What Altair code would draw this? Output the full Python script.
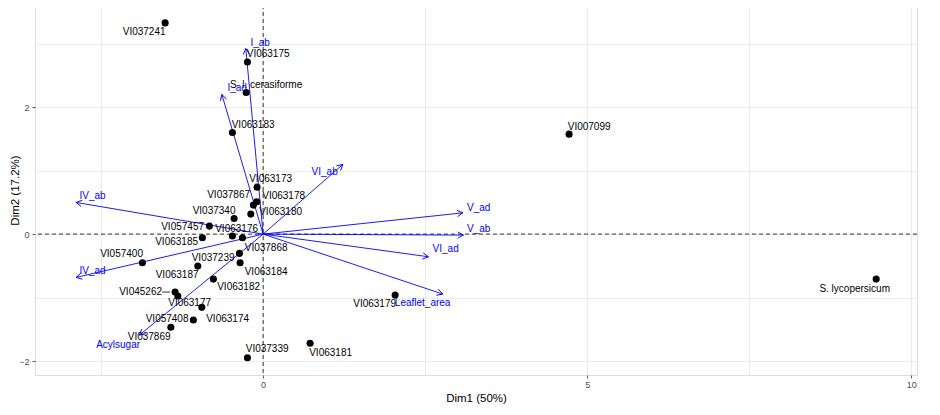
import math
import pandas as pd
import altair as alt

# ---------------- data ----------------
ind_names = ["VI037241", "VI063175", "S. l. cerasiforme", "VI063183", "VI007099",
             "VI063173", "VI063178", "VI037867", "VI063180", "VI037340",
             "VI057457", "VI063176", "VI037868", "VI063185", "VI037239",
             "VI063184", "VI057400", "VI063187", "VI063182", "VI045262",
             "VI063177", "VI063174", "VI057408", "VI037869", "VI037339",
             "VI063181", "VI063179", "S. lycopersicum"]
ind_dim1 = [-1.512, -0.242, -0.262, -0.474, 4.722,
            -0.093, -0.097, -0.150, -0.190, -0.448,
            -0.829, -0.474, -0.319, -0.937, -0.366,
            -0.355, -1.863, -1.008, -0.767, -1.358,
            -1.316, -0.946, -1.076, -1.424, -0.242,
            0.725, 2.037, 9.460]
ind_dim2 = [3.328, 2.713, 2.231, 1.602, 1.575,
            0.740, 0.509, 0.457, 0.315, 0.247,
            0.126, -0.031, -0.058, -0.058, -0.304,
            -0.452, -0.452, -0.504, -0.709, -0.913,
            -0.976, -1.154, -1.354, -1.469, -1.948,
            -1.721, -0.961, -0.709]

var_names = ["I_ab", "I_ad", "VI_ab", "IV_ab", "IV_ad", "V_ad", "V_ab", "VI_ad",
             "Leaflet_area", "Acylsugar"]
var_dim1 = [-0.267, -0.637, 1.230, -2.886, -2.886, 3.082, 3.091, 2.551, 2.773, -1.909]
var_dim2 = [2.924, 2.200, 1.098, 0.499, -0.682, 0.335, -0.016, -0.357, -0.945, -1.591]

x_major = [0, 5, 10]
x_grid = [-2.5, 0, 2.5, 5, 7.5, 10]
y_major = [-2, 0, 2]
y_grid = [-2, -1, 0, 1, 2, 3]

# ---------------- styling (label placement, in pixels) ----------------
ind_lab_dx = [-21, 20.7, 20, 20.7, 20, 13.5, 26.8, -24.8, 29.8, -20,
              -26.8, 4.2, 23.7, -25.8, -26.3, 26, -20.8, -20.7, 25.2, -34.5,
              11.8, 25.8, -26.3, -21.7, 19.7, 20.5, -20.5, -21.5]
ind_lab_dy = [9.3, -7.7, -7.3, -7.3, -7, -7.7, -5.7, -10, -1.7, -7.3,
              0.7, -7, 10, 4, 5, 9, -8.4, 9, 8.3, 0,
              7.3, 12, -0.7, 10, -8.4, 10, 9.3, 10]
var_lab_dx = [14.3, 15.3, -18.2, 16.5, 16.5, 15.8, 15.2, 17.2, -20.2, -21.3]
var_lab_dy = [-5.3, -6.6, 8, -6.6, -6.6, -5, -5.7, -7.4, 9.3, 10]

W, H = 882, 370
XDOM = [-3.52, 10.09]
YDOM = [-2.22, 3.61]
KX = W / (XDOM[1] - XDOM[0])
KY = H / (YDOM[1] - YDOM[0])
BLUE = "#0000FF"
FONT = "Liberation Sans"

ind = pd.DataFrame({"name": ind_names, "x": ind_dim1, "y": ind_dim2,
                    "dx": ind_lab_dx, "dy": ind_lab_dy})
ind["lx"] = ind["x"] + ind["dx"] / KX
ind["ly"] = ind["y"] - ind["dy"] / KY

var = pd.DataFrame({"name": var_names, "x": var_dim1, "y": var_dim2,
                    "dx": var_lab_dx, "dy": var_lab_dy})
var["x0"] = 0.0
var["y0"] = 0.0
var["lx"] = var["x"] + var["dx"] / KX
var["ly"] = var["y"] - var["dy"] / KY
var["angle"] = [math.degrees(math.atan2(a * KX, b * KY)) % 360 for a, b in zip(var["x"], var["y"])]

# leader segment for the repelled label of VI045262
seg = ind[ind["name"] == "VI045262"].copy()
seg["sx"] = seg["x"] - 13 / KX
seg["sx2"] = seg["x"] - 5 / KX

zero = pd.DataFrame({"z": [0.0]})

xscale = alt.Scale(domain=XDOM, nice=False, zero=False)
yscale = alt.Scale(domain=YDOM, nice=False, zero=False)

xaxis = alt.Axis(values=x_grid,
                 labelExpr="indexof(%s, datum.value) >= 0 ? datum.label : ''" % str(x_major),
                 grid=True, gridColor="#EBEBEB", gridWidth=1, domain=False,
                 tickSize=3, tickColor="#333333", tickWidth=0.8,
                 tickOpacity={"condition": {"test": "indexof(%s, datum.value) < 0" % str(x_major), "value": 0}, "value": 1},
                 labelColor="#4D4D4D", labelFontSize=9, labelPadding=2, labelFont=FONT,
                 title="Dim1 (50%)", titleFontSize=11.5, titleFontWeight="normal", titleColor="#000000",
                 titleFont=FONT, titleX=W / 2, titleY=23, titleBaseline="middle", titleAlign="center")
yaxis = alt.Axis(values=y_grid,
                 labelExpr="indexof(%s, datum.value) >= 0 ? datum.label : ''" % str(y_major),
                 grid=True, gridColor="#EBEBEB", gridWidth=1, domain=False,
                 tickSize=3, tickColor="#333333", tickWidth=0.8,
                 tickOpacity={"condition": {"test": "indexof(%s, datum.value) < 0" % str(y_major), "value": 0}, "value": 1},
                 labelColor="#4D4D4D", labelFontSize=9, labelPadding=3, labelFont=FONT,
                 title="Dim2 (17.2%)", titleFontSize=11.5, titleFontWeight="normal", titleColor="#000000",
                 titleFont=FONT, titleAngle=270, titleX=-20, titleY=H / 2,
                 titleBaseline="middle", titleAlign="center")


def X(f):
    return alt.X(f, type="quantitative", scale=xscale, axis=xaxis)


def Y(f):
    return alt.Y(f, type="quantitative", scale=yscale, axis=yaxis)


vline = alt.Chart(zero).mark_rule(color="black", strokeDash=[4, 3], strokeWidth=0.8).encode(x=X("z"))
hline = alt.Chart(zero).mark_rule(color="black", strokeDash=[4, 3], strokeWidth=0.8).encode(y=Y("z"))

arrows = alt.Chart(var).mark_rule(color=BLUE, strokeWidth=0.9).encode(
    x=X("x0"), y=Y("y0"), x2="x:Q", y2="y:Q")
heads = alt.Chart(var).mark_point(shape="M -0.55 1 L 0 0 L 0.55 1", filled=False, color=BLUE,
                                  strokeWidth=0.9, size=130, opacity=1).encode(
    x=X("x"), y=Y("y"), angle=alt.Angle("angle:Q", scale=None))
var_text = alt.Chart(var).mark_text(color=BLUE, fontSize=10, font=FONT, align="center",
                                    baseline="middle").encode(x=X("lx"), y=Y("ly"), text="name:N")

points = alt.Chart(ind).mark_circle(color="black", size=50, opacity=1).encode(x=X("x"), y=Y("y"))
leader = alt.Chart(seg).mark_rule(color="black", strokeWidth=0.8).encode(
    x=X("sx"), x2="sx2:Q", y=Y("y"))
ind_text = alt.Chart(ind).mark_text(color="black", fontSize=10, font=FONT, align="center",
                                    baseline="middle").encode(x=X("lx"), y=Y("ly"), text="name:N")

chart = alt.layer(vline, hline, arrows, heads, points, leader, ind_text, var_text).properties(
    width=W, height=H, autosize="none",
    padding={"left": 27, "top": -3, "right": 10, "bottom": 40},
).configure_view(stroke="transparent", strokeWidth=0).configure(background="white")

chart.save("out.html", embed_options={"renderer": "svg", "actions": False})
